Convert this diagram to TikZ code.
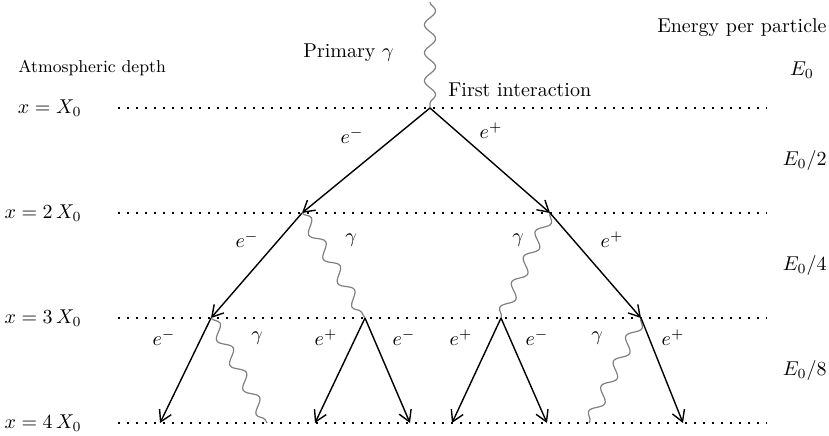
\documentclass[tikz,border=0pt]{standalone}
\usetikzlibrary{arrows.meta,decorations.pathmorphing}
\begin{document}
\begin{tikzpicture}[
    x=0.5pt, y=-0.5pt,
    every node/.style={inner sep=1pt},
    depth/.style={line width=1.2pt, dash pattern=on 1.1pt off 3.4pt},
    lepton/.style={-{Straight Barb[length=5.5pt,width=6.5pt]}, line width=0.7pt},
    photon/.style={draw=gray, line width=0.6pt, decorate,
                   decoration={snake, segment length=14pt, amplitude=2.8pt}},
]
\useasboundingbox (0,0) rectangle (829,435);
% Depth levels and their labels
\foreach \lv/\yy/\lab in {1/108/X_0, 2/213/2\,X_0, 3/318/3\,X_0, 4/423/4\,X_0} {
  \coordinate (a\lv) at (118,\yy);
  \coordinate (b\lv) at (767,\yy);
  \node[anchor=east] (d\lv) at (84,\yy) {$x = \lab$};
  \draw[depth] (a\lv) -- (b\lv);
}
% Headings
\node[anchor=west, font=\fontsize{8.6pt}{10pt}\selectfont] (atm) at (16,68) {Atmospheric depth};
\node[anchor=east] (epp) at (829,28) {Energy per particle};
\node[anchor=east] (prim) at (396,53) {Primary $\gamma$};
\node[anchor=west] (first) at (446,90) {First interaction};
% Energy per particle column
\node (en0) at (802,70) {$E_0$};
\node[anchor=east] (en1) at (829,160) {$E_0/2$};
\node[anchor=east] (en2) at (829,265) {$E_0/4$};
\node[anchor=east] (en3) at (829,370) {$E_0/8$};
% Vertices
\coordinate (top) at (430,2);
\coordinate (v0) at (430,108);
\coordinate (v1) at (302,213);
\coordinate (v2) at (550,213);
\coordinate (v3) at (211,318);
\coordinate (v4) at (365,318);
\coordinate (v5) at (501,318);
\coordinate (v6) at (641,318);
% End points on the last level
\coordinate (f1) at (160,423);
\coordinate (f2) at (267,423);
\coordinate (f3) at (315,423);
\coordinate (f4) at (410,423);
\coordinate (f5) at (452,423);
\coordinate (f6) at (547,423);
\coordinate (f7) at (589,423);
\coordinate (f8) at (683,423);
% Primary photon
\draw[photon] (top) -- (v0);
% First generation
\draw[lepton] (v0) -- (v1);
\draw[lepton] (v0) -- (v2);
\node (l01) at (352,136) {$e^-$};
\node (l02) at (491,131) {$e^+$};
% Second generation
\draw[lepton] (v1) -- (v3);
\draw[photon] (v1) -- (v4);
\draw[photon] (v2) -- (v5);
\draw[lepton] (v2) -- (v6);
\node (l11) at (247,240) {$e^-$};
\node (l12) at (351,240) {$\gamma$};
\node (l13) at (518,240) {$\gamma$};
\node (l14) at (612,240) {$e^+$};
% Third generation
\draw[lepton] (v3) -- (f1);
\draw[photon] (v3) -- (f2);
\draw[lepton] (v4) -- (f3);
\draw[lepton] (v4) -- (f4);
\draw[lepton] (v5) -- (f5);
\draw[lepton] (v5) -- (f6);
\draw[photon] (v6) -- (f7);
\draw[lepton] (v6) -- (f8);
\node (l21) at (164,338) {$e^-$};
\node (l22) at (257,338) {$\gamma$};
\node (l23) at (326,338) {$e^+$};
\node (l24) at (404,338) {$e^-$};
\node (l25) at (461,338) {$e^+$};
\node (l26) at (537,338) {$e^-$};
\node (l27) at (597,338) {$\gamma$};
\node (l28) at (673,338) {$e^+$};
\end{tikzpicture}
\end{document}
